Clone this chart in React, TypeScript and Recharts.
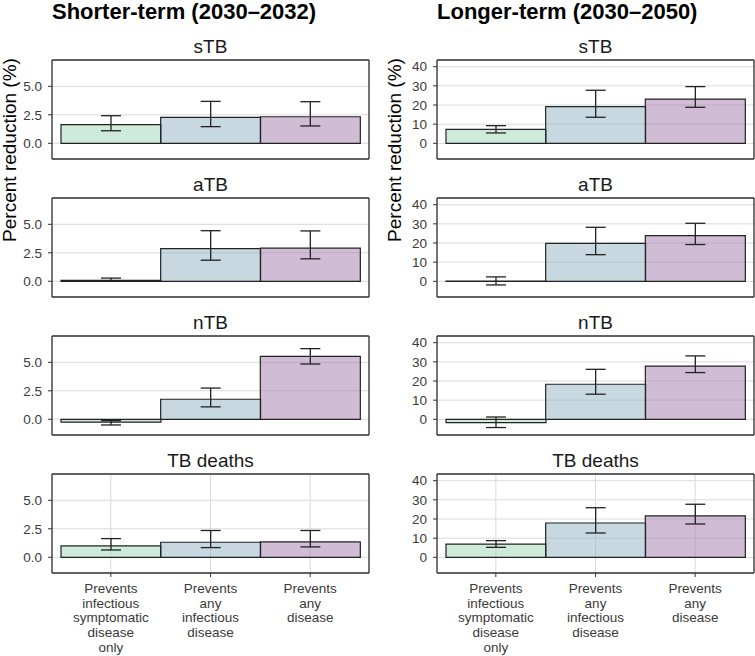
import React from 'react';
import { BarChart, Bar, XAxis, YAxis, CartesianGrid, ErrorBar, Cell } from 'recharts';

const categories = [
  'Prevents\ninfectious\nsymptomatic\ndisease\nonly',
  'Prevents\nany\ninfectious\ndisease',
  'Prevents\nany\ndisease',
];
const outcomes = ['sTB', 'aTB', 'nTB', 'TB deaths'];
const barColors = ['#9bd5b7', '#91b1c3', '#a179a9'];

// Shorter-term (2030-2032): one row per outcome, one value per category
const shortMid = [
  [1.63, 2.28, 2.33],
  [0.08, 2.86, 2.91],
  [-0.25, 1.76, 5.53],
  [1.0, 1.32, 1.35],
];
const shortLow = [
  [1.1, 1.46, 1.52],
  [0.0, 1.85, 1.97],
  [-0.5, 1.09, 4.85],
  [0.64, 0.85, 0.91],
];
const shortHigh = [
  [2.42, 3.68, 3.65],
  [0.28, 4.44, 4.42],
  [-0.12, 2.74, 6.2],
  [1.64, 2.35, 2.35],
];

// Longer-term (2030-2050)
const longMid = [
  [7.3, 19.1, 23.1],
  [0.1, 19.8, 23.9],
  [-1.7, 18.3, 27.8],
  [6.9, 17.9, 21.6],
];
const longLow = [
  [5.4, 13.6, 18.8],
  [-1.9, 13.9, 19.2],
  [-4.3, 13.1, 24.4],
  [5.2, 12.7, 17.4],
];
const longHigh = [
  [9.2, 27.7, 29.6],
  [2.3, 28.2, 30.3],
  [1.2, 26.1, 33.1],
  [8.7, 25.9, 27.7],
];

const shortTicks = [0, 2.5, 5];
const longTicks = [0, 10, 20, 30, 40];

const FONT = '"Liberation Sans", Arial, Helvetica, sans-serif';
const BOX_TOP = 60;
const ROW_STEP = 138.1;
const BOX_H = 99;
const COL_X = [0, 385];

function CatTick(props: any) {
  const { x, y, payload } = props;
  const lines = String(payload.value).split('\n');
  return (
    <text x={x} y={y} textAnchor="middle" fill="#3a3a3a" fontSize={13.5}>
      {lines.map((l, i) => (
        <tspan key={i} x={x} dy={i === 0 ? 14 : 14.7}>
          {l}
        </tspan>
      ))}
    </text>
  );
}

interface PanelProps {
  left: number;
  top: number;
  mid: number[];
  low: number[];
  high: number[];
  domain: [number, number];
  ticks: number[];
  fmt: (v: number) => string;
  showX: boolean;
}

function Panel({ left, top, mid, low, high, domain, ticks, fmt, showX }: PanelProps) {
  const data = categories.map((c, i) => ({
    cat: c,
    value: mid[i],
    err: [mid[i] - low[i], high[i] - mid[i]],
  }));
  const bottomH = showX ? 90 : 1;
  const border = { stroke: '#333', strokeWidth: 1.3 };

  return (
    <div style={{ position: 'absolute', left, top: top - 3 }}>
      <BarChart
        width={372}
        height={2 + 1 + BOX_H + bottomH + 2}
        data={data}
        margin={{ top: 2, right: 2, bottom: 2, left: 12 }}
        barCategoryGap={0}
        barGap={0}
      >
        <CartesianGrid stroke="#dadada" strokeWidth={1} />
        <XAxis
          dataKey="cat"
          padding={{ left: 9, right: 9 }}
          height={bottomH}
          axisLine={border}
          tickLine={showX ? { stroke: '#333' } : false}
          tickSize={showX ? 4 : 0}
          tick={showX ? <CatTick /> : false}
          interval={0}
        />
        <XAxis
          xAxisId="top"
          orientation="top"
          dataKey="cat"
          padding={{ left: 9, right: 9 }}
          height={1}
          axisLine={border}
          tickLine={false}
          tick={false}
        />
        <YAxis
          width={40}
          domain={domain}
          ticks={ticks}
          interval={0}
          allowDataOverflow
          tickFormatter={fmt}
          axisLine={border}
          tickLine={{ stroke: '#333' }}
          tickSize={4}
          tickMargin={6}
          tick={{ fill: '#3a3a3a', fontSize: 13.5 }}
        />
        <YAxis
          yAxisId="r"
          orientation="right"
          width={1}
          domain={domain}
          allowDataOverflow
          axisLine={border}
          tickLine={false}
          tick={false}
        />
        <Bar dataKey="value" stroke="#222" strokeWidth={1.2} isAnimationActive={false}>
          {data.map((d, i) => (
            <Cell key={d.cat} fill={barColors[i]} fillOpacity={0.5} />
          ))}
          <ErrorBar dataKey="err" width={10} stroke="#222" strokeWidth={1.3} direction="y" />
        </Bar>
      </BarChart>
    </div>
  );
}

export default function App() {
  const columns = [
    { title: 'Shorter-term (2030\u20132032)', mid: shortMid, low: shortLow, high: shortHigh, domain: [-1.38, 7.31] as [number, number], ticks: shortTicks, fmt: (v: number) => v.toFixed(1) },
    { title: 'Longer-term (2030\u20132050)', mid: longMid, low: longLow, high: longHigh, domain: [-8.2, 43.5] as [number, number], ticks: longTicks, fmt: (v: number) => String(v) },
  ];

  return (
    <div
      style={{
        position: 'absolute',
        left: 0,
        top: 0,
        width: 755,
        height: 656,
        background: '#fff',
        fontFamily: FONT,
        overflow: 'hidden',
      }}
    >
      {columns.map((col, c) =>
        outcomes.map((o, r) => (
          <Panel
            key={`${c}-${o}`}
            left={COL_X[c]}
            top={BOX_TOP + r * ROW_STEP}
            mid={col.mid[r]}
            low={col.low[r]}
            high={col.high[r]}
            domain={col.domain}
            ticks={col.ticks}
            fmt={col.fmt}
            showX={r === outcomes.length - 1}
          />
        ))
      )}
      <svg
        width={755}
        height={656}
        style={{ position: 'absolute', left: 0, top: 0, pointerEvents: 'none' }}
      >
        {columns.map((col, c) => (
          <g key={col.title}>
            <text x={COL_X[c] + 52} y={18.5} fontSize={22} fontWeight="bold" fill="#000">
              {col.title}
            </text>
            <text
              transform={`translate(${COL_X[c] + 16}, 150) rotate(-90)`}
              textAnchor="middle"
              fontSize={19}
              fill="#000"
            >
              Percent reduction (%)
            </text>
            {outcomes.map((o, r) => (
              <text
                key={o}
                x={COL_X[c] + 52 + 317 / 2}
                y={BOX_TOP + r * ROW_STEP - 7}
                textAnchor="middle"
                fontSize={19}
                fill="#1a1a1a"
              >
                {o}
              </text>
            ))}
          </g>
        ))}
      </svg>
    </div>
  );
}
